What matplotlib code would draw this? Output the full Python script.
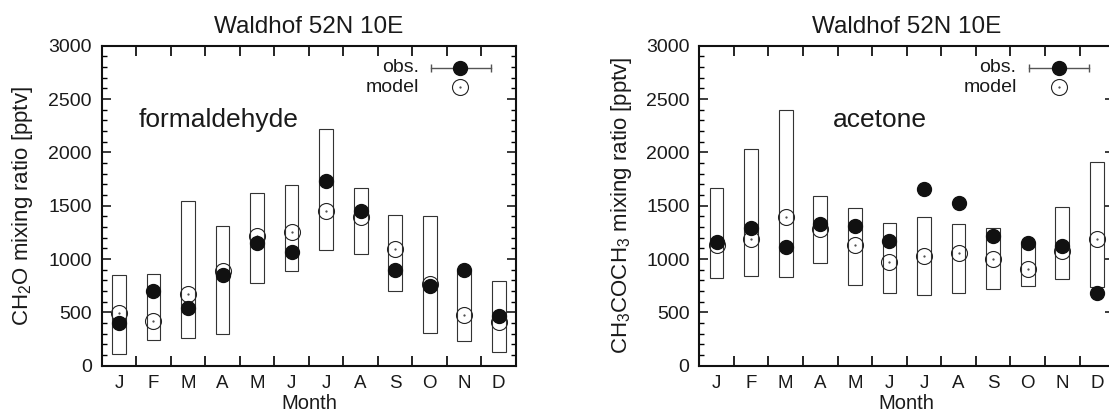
import matplotlib
matplotlib.use("Agg")
import matplotlib.pyplot as plt
import numpy as np

plt.rcParams["font.family"] = ["Liberation Sans", "DejaVu Sans"]
plt.rcParams["mathtext.default"] = "regular"

months = np.arange(1, 13)
month_labels = ["J", "F", "M", "A", "M", "J", "J", "A", "S", "O", "N", "D"]

# formaldehyde (CH2O), pptv
ch2o_obs = [403, 700, 544, 850, 1150, 1069, 1732, 1450, 900, 747, 893, 466]
ch2o_model = [497, 419, 672, 891, 1216, 1250, 1453, 1391, 1091, 769, 478, 413]
ch2o_lo = [109, 244, 259, 297, 778, 887, 1084, 1050, 697, 303, 228, 128]
ch2o_hi = [852, 862, 1548, 1309, 1617, 1690, 2222, 1667, 1409, 1403, 885, 794]

# acetone (CH3COCH3), pptv
acet_obs = [1156, 1287, 1116, 1325, 1306, 1166, 1653, 1522, 1216, 1153, 1119, 681]
acet_model = [1134, 1187, 1394, 1281, 1134, 975, 1031, 1056, 1003, 903, 1078, 1187]
acet_lo = [822, 844, 831, 962, 753, 684, 662, 681, 722, 744, 809, 738]
acet_hi = [1662, 2028, 2397, 1587, 1478, 1337, 1397, 1331, 1287, 1140, 1491, 1909]

TXT = "#1a1a1a"


def draw_panel(ax, obs, model, lo, hi, ylabel, ylabel_x, species, species_x):
    lo = np.array(lo)
    hi = np.array(hi)
    ax.bar(months, hi - lo, bottom=lo, width=0.4, fill=False,
           edgecolor="#333333", linewidth=0.8, zorder=2)
    ax.plot(months, model, "o", ms=11.5, mfc="none", mec="#222222",
            mew=0.8, zorder=3)
    ax.plot(months, model, ".", ms=1.2, color="#444444", zorder=3)
    ax.plot(months, obs, "o", ms=10, color="#111111", zorder=4)

    ax.set_xlim(0.5, 12.5)
    ax.set_ylim(0, 3000)
    ax.set_xticks(months)
    ax.set_xticklabels(month_labels)
    ax.set_xticks(np.arange(1.5, 12.5, 1), minor=True)
    ax.set_yticks(np.arange(0, 3001, 500))
    ax.set_yticks(np.arange(0, 3001, 100), minor=True)
    ax.tick_params(axis="x", which="major", length=0, pad=7,
                   labelsize=13.5, colors=TXT)
    ax.tick_params(axis="x", which="minor", length=7, width=1.2,
                   direction="in", top=True, bottom=True)
    ax.tick_params(axis="y", which="major", length=6.7, width=1.2,
                   direction="in", left=True, right=True, pad=7,
                   labelsize=14, colors=TXT)
    ax.tick_params(axis="y", which="minor", length=3.6, width=1.0,
                   direction="in", left=True, right=True)
    for sp in ax.spines.values():
        sp.set_linewidth(1.5)
        sp.set_color("#111111")

    ax.set_title("Waldhof 52N 10E", fontsize=17.5, color=TXT, pad=9.5)
    ax.set_xlabel("Month", fontsize=14.5, color=TXT, labelpad=1)
    ax.set_ylabel(ylabel, fontsize=16, color=TXT, va="center")
    ax.yaxis.set_label_coords(ylabel_x, 0.5)

    ax.text(species_x, 0.747, species, transform=ax.transAxes,
            fontsize=19, color=TXT, ha="left", va="baseline")

    # legend drawn by hand
    ax.plot([0.795, 0.94], [0.931, 0.931], transform=ax.transAxes,
            color="#555555", lw=1.0, zorder=5, clip_on=False)
    ax.plot([0.795, 0.94], [0.931, 0.931], transform=ax.transAxes,
            ls="none", marker="|", ms=6, mew=1.0, color="#555555",
            zorder=5, clip_on=False)
    ax.plot([0.866], [0.931], "o", ms=10, color="#111111",
            transform=ax.transAxes, zorder=6, clip_on=False)
    ax.plot([0.866], [0.870], "o", ms=11.5, mfc="none", mec="#222222",
            mew=0.8, transform=ax.transAxes, zorder=6, clip_on=False)
    ax.plot([0.866], [0.870], ".", ms=1.2, color="#444444",
            transform=ax.transAxes, zorder=6, clip_on=False)
    ax.text(0.765, 0.931, "obs.", transform=ax.transAxes, fontsize=14,
            color=TXT, ha="right", va="center")
    ax.text(0.765, 0.870, "model", transform=ax.transAxes, fontsize=14,
            color=TXT, ha="right", va="center")


fig = plt.figure(figsize=(11.09, 4.2), dpi=100)
ax1 = fig.add_axes([101.7 / 1109, 54.3 / 420, 414.3 / 1109, 320 / 420])
ax2 = fig.add_axes([699.3 / 1109, 54.3 / 420, 414.8 / 1109, 320 / 420])

draw_panel(ax1, ch2o_obs, ch2o_model, ch2o_lo, ch2o_hi,
           "CH$_2$O mixing ratio [pptv]", -0.19, "formaldehyde", 0.09)
draw_panel(ax2, acet_obs, acet_model, acet_lo, acet_hi,
           "CH$_3$COCH$_3$ mixing ratio [pptv]", -0.187, "acetone", 0.321)

fig.savefig("out.png", dpi=100)
